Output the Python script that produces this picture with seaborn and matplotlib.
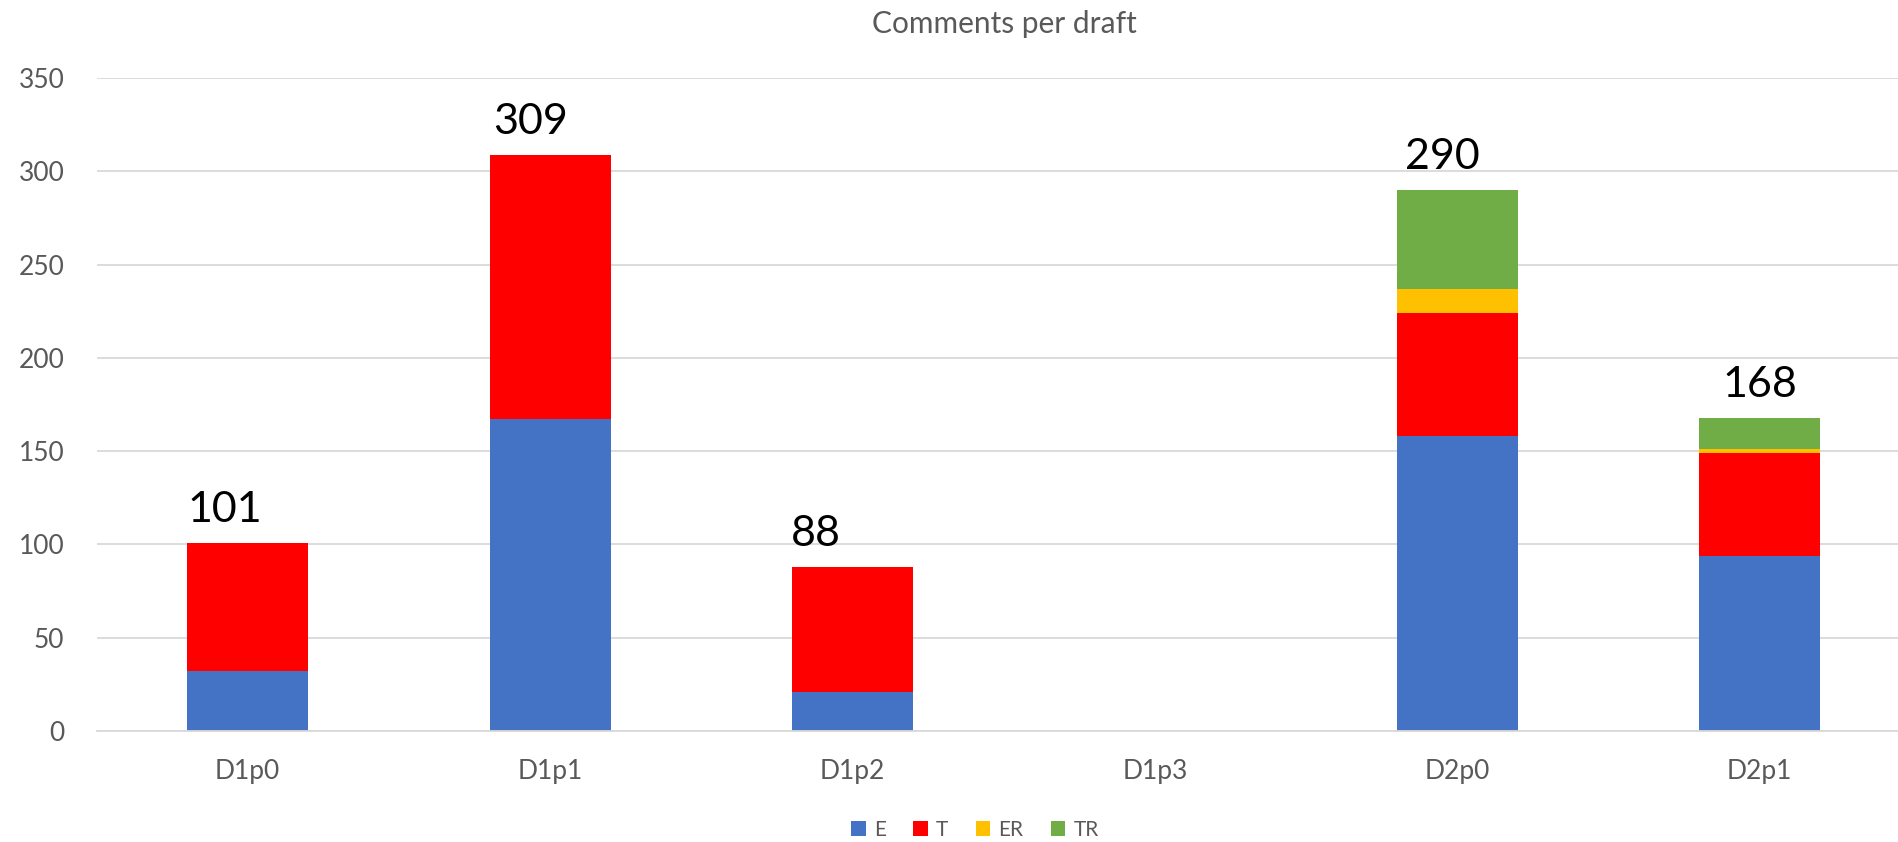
import numpy as np
import pandas as pd
import seaborn as sns
import matplotlib.pyplot as plt
from matplotlib.patches import Patch

drafts = ["D1p0", "D1p1", "D1p2", "D1p3", "D2p0", "D2p1"]
e_vals = [32, 167, 21, 0, 158, 94]
t_vals = [69, 142, 67, 0, 66, 55]
er_vals = [0, 0, 0, 0, 13, 2]
tr_vals = [0, 0, 0, 0, 53, 17]

series = ["E", "T", "ER", "TR"]
colors = ["#4472C4", "#FF0000", "#FFC000", "#70AD47"]
# the total labels in the original sit a bit left of the bar centre
label_shift = [-0.076, -0.066, -0.12, 0, -0.05, 0]

df = pd.DataFrame({"draft": drafts, "E": e_vals, "T": t_vals, "ER": er_vals, "TR": tr_vals})

sns.set_theme(style="white")
plt.rcParams["font.family"] = ["Lato", "DejaVu Sans"]

fig = plt.figure(figsize=(18.98, 8.42), dpi=100)
ax = fig.add_axes([96.5 / 1898, 0.1318, (1911 - 96.5) / 1898, 0.7755])

bottom = np.zeros(len(drafts))
for name, col in zip(series, colors):
    sns.barplot(data=df, x="draft", y=name, order=drafts, color=col,
                width=0.4, bottom=bottom, ax=ax, linewidth=0, saturation=1)
    bottom = bottom + df[name].values

totals = df[series].sum(axis=1).values
for i, tot in enumerate(totals):
    if tot > 0:
        ax.annotate(str(tot), (i + label_shift[i], tot), xytext=(0, 15),
                    textcoords="offset points", ha="center", va="baseline",
                    fontsize=31, color="black")

ax.set_xlim(-0.5, len(drafts) - 0.5)
ax.set_ylim(0, 350)
ax.set_yticks(range(0, 351, 50))
ax.yaxis.grid(True, color="#D9D9D9", linewidth=1.3)
ax.set_axisbelow(True)
for s in ["top", "right", "left"]:
    ax.spines[s].set_visible(False)
ax.spines["bottom"].set_color("#D9D9D9")
ax.spines["bottom"].set_linewidth(1.3)
ax.tick_params(axis="both", length=0, labelsize=19, labelcolor="#595959")
ax.tick_params(axis="x", pad=20)
ax.tick_params(axis="y", pad=23)
ax.set_xlabel("")
ax.set_ylabel("")

fig.text(1004 / 1898, (842 - 33) / 842, "Comments per draft", ha="center",
         va="baseline", fontsize=21.5, color="#595959")

handles = [Patch(facecolor=c, edgecolor="none", label=s) for s, c in zip(series, colors)]
fig.legend(handles=handles, loc="center", bbox_to_anchor=(975 / 1898, 12 / 842),
           ncol=4, frameon=False, fontsize=15, handlelength=0.7, handleheight=0.7,
           handletextpad=0.4, columnspacing=1.3, labelcolor="#595959")

fig.savefig("out.png", dpi=100)
